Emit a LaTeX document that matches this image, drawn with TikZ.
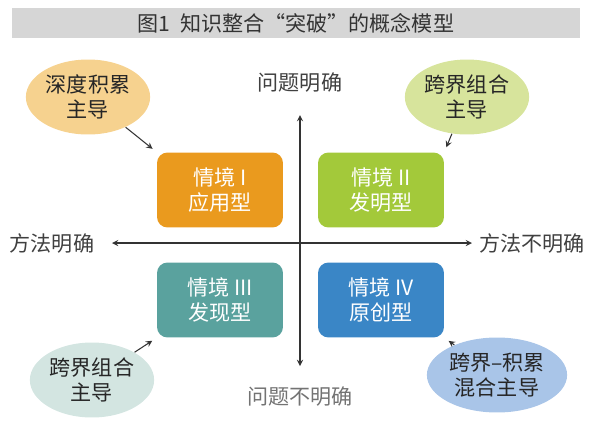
\documentclass[tikz,border=0pt]{standalone}
\usepackage{fontspec}
\setmainfont{Noto Sans CJK SC}
\usetikzlibrary{shapes.geometric}
\definecolor{barGray}{HTML}{D6D6D6}
\definecolor{quadOrange}{HTML}{EA9A1E}
\definecolor{quadGreen}{HTML}{A3C93A}
\definecolor{quadTeal}{HTML}{5AA29E}
\definecolor{quadBlue}{HTML}{3A86C6}
\definecolor{ovalOrange}{HTML}{F6D28F}
\definecolor{ovalGreen}{HTML}{D7E49C}
\definecolor{ovalTeal}{HTML}{D3E5E1}
\definecolor{ovalBlue}{HTML}{A9C5E8}
\begin{document}
\begin{tikzpicture}
		[x=0.02cm,y=-0.02cm,
		quad/.style={rounded corners=6pt,minimum width=2.52cm,minimum height=1.5cm,
			text=white,align=center,font=\large},
		oval/.style={ellipse,minimum width=2.2cm,minimum height=1.5cm,inner sep=1pt,
			align=center,font=\large,text=black!85},
		axislabel/.style={font=\large,text=black!75},
		pointer/.style={->,>=stealth,semithick,black!80}]
		\useasboundingbox (0,0) rectangle (600,430);
		\fill[barGray] (12,8) rectangle (580,38);
		\node[font=\large,text=black!80] (title) at (296,23) {图1\ \ 知识整合“突破”的概念模型};
		% axes
		\coordinate (top) at (300,115);
		\coordinate (bottom) at (300,366);
		\coordinate (left) at (112,243);
		\coordinate (right) at (472,243);
		\draw[<->,>=stealth,semithick,black!80] (top) -- (bottom);
		\draw[<->,>=stealth,semithick,black!80] (left) -- (right);
		\node[axislabel] (qyes) at (300,83) {问题明确};
		\node[axislabel,text=black!55] (qno) at (300,397) {问题不明确};
		\node[axislabel] (myes) at (52,243) {方法明确};
		\node[axislabel] (mno) at (532,243) {方法不明确};
		% quadrants
		\node[quad,fill=quadOrange] (s1) at (220,190) {情境 I\\应用型};
		\node[quad,fill=quadGreen] (s2) at (381,190) {情境 II\\发明型};
		\node[quad,fill=quadTeal] (s3) at (220,300) {情境 III\\发现型};
		\node[quad,fill=quadBlue] (s4) at (381,300) {情境 IV\\原创型};
		% ovals
		\node[oval,fill=ovalOrange] (o1) at (88,97) {深度积累\\主导};
		\node[oval,fill=ovalGreen] (o2) at (467,97) {跨界组合\\主导};
		\node[oval,fill=ovalTeal] (o3) at (92,380) {跨界组合\\主导};
		\node[oval,fill=ovalBlue] (o4) at (497,375) {跨界–积累\\混合主导};
		\draw[pointer,shorten >=3pt] (o1) -- (s1.north west);
		\draw[pointer,shorten >=3pt] (o2) -- (s2.north east);
		\draw[pointer,shorten >=3pt] (o3) -- (s3.south west);
		\draw[pointer,shorten >=3pt] (o4) -- (s4.south east);
	\end{tikzpicture}
\end{document}
